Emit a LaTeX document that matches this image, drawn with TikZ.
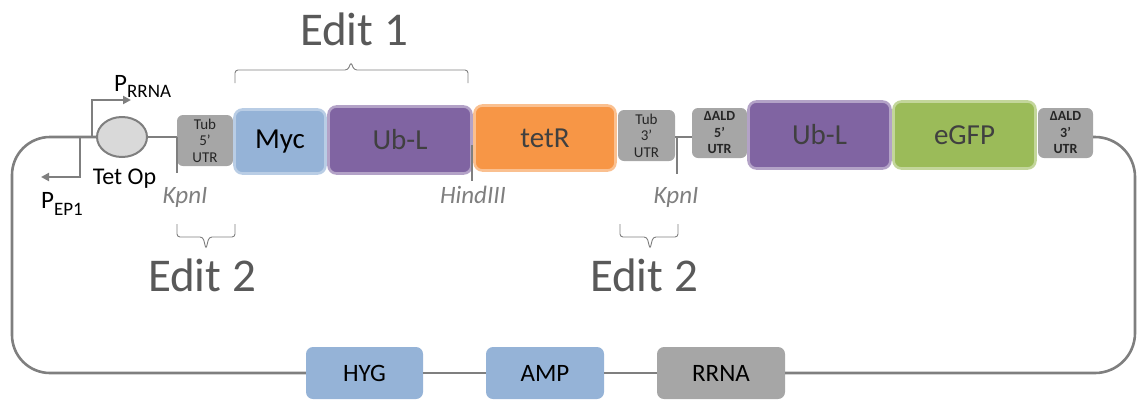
\documentclass[tikz,border=0pt]{standalone}
\usepackage{fontspec}
\setmainfont{Carlito}
\usetikzlibrary{arrows.meta,shapes.geometric}
\definecolor{linegray}{HTML}{7F7F7F}
\definecolor{utrgray}{HTML}{A6A6A6}
\definecolor{bluefill}{HTML}{95B3D7}
\definecolor{blueedge}{HTML}{B9CDE5}
\definecolor{purplefill}{HTML}{8064A2}
\definecolor{purpleedge}{HTML}{B3A2C7}
\definecolor{orangefill}{HTML}{F79646}
\definecolor{orangeedge}{HTML}{FAC090}
\definecolor{greenfill}{HTML}{9BBB59}
\definecolor{greenedge}{HTML}{C3D69B}
\definecolor{opfill}{HTML}{D9D9D9}
\definecolor{edittext}{HTML}{595959}
\definecolor{darktext}{HTML}{404040}
\begin{document}
\begin{tikzpicture}[x=1pt,y=-1pt,
  bb/.style={draw=linegray,line width=2.6pt},
  site/.style={draw=linegray,line width=2.4pt},
  bracepath/.style={draw=linegray,line width=0.9pt,rounded corners=3pt},
  gene/.style={rectangle,rounded corners=8pt,inner sep=0pt,line width=2.6pt,
    font=\fontsize{29}{29}\selectfont},
  utr/.style={rectangle,rounded corners=6pt,inner sep=0pt,fill=utrgray,
    align=center,font=\fontsize{15}{16.5}\selectfont,text=black!85},
  utrbold/.style={utr,font=\fontsize{14}{16.5}\selectfont\bfseries},
  marker/.style={rectangle,rounded corners=7pt,inner sep=0pt,
    minimum height=52pt,font=\fontsize{25}{25}\selectfont,text=black},
  enzyme/.style={inner sep=0pt,anchor=base,text=linegray,
    font=\fontsize{25}{25}\selectfont\itshape},
  edit/.style={inner sep=0pt,anchor=base,text=edittext,
    font=\fontsize{47}{47}\selectfont},
  promo/.style={inner sep=0pt,anchor=base west,text=black,
    font=\fontsize{25}{25}\selectfont},
  arr/.style={-{Triangle[length=8pt,width=8pt]}}]
\useasboundingbox (0,0) rectangle (1139,400);

% upper cassette
\node[ellipse,draw=linegray,fill=opfill,line width=2pt,minimum width=50pt,
  minimum height=40pt,inner sep=0pt] (tetop) at (122,137) {};
\node[utr,minimum width=56pt,minimum height=51pt] (tub5) at (205,140.5) {Tub\\5’\\UTR};
\node[gene,fill=bluefill,draw=blueedge,minimum width=91pt,minimum height=64pt,
  text=black] (myc) at (280,141.5) {Myc};
\node[gene,fill=purplefill,draw=purpleedge,minimum width=143pt,minimum height=67pt,
  text=darktext] (ubl1) at (400,140) {Ub-L};
\node[gene,fill=orangefill,draw=orangeedge,minimum width=141pt,minimum height=65pt,
  text=darktext] (tetr) at (545,138) {tetR};
\node[utr,minimum width=57pt,minimum height=51pt] (tub3) at (646.5,135.5) {Tub\\3’\\UTR};
\node[utrbold,minimum width=55pt,minimum height=50pt] (ald5) at (719.5,133) {ΔALD\\5’\\UTR};
\node[gene,fill=purplefill,draw=purpleedge,minimum width=142pt,minimum height=67pt,
  text=darktext] (ubl2) at (819.5,135) {Ub-L};
\node[gene,fill=greenfill,draw=greenedge,minimum width=142pt,minimum height=67pt,
  text=darktext] (egfp) at (964.5,135) {eGFP};
\node[utrbold,minimum width=55pt,minimum height=50pt] (ald3) at (1065.5,133) {ΔALD\\3’\\UTR};

% lower markers
\node[marker,fill=bluefill,minimum width=117pt] (hyg) at (364.5,373) {HYG};
\node[marker,fill=bluefill,minimum width=118pt] (amp) at (545,373) {AMP};
\node[marker,fill=utrgray,minimum width=128pt] (rrna) at (721,373) {RRNA};

% plasmid backbone
\draw[bb] (tetop.east) -- (tub5.west |- tetop.east);
\draw[bb] (tub3.east |- tetop) -- (ald5.west |- tetop);
\draw[bb,rounded corners=40pt] (ald3.east |- tetop) -| (1135,373) -- (rrna.east);
\draw[bb] (rrna.west) -- (amp.east);
\draw[bb] (amp.west) -- (hyg.east);
\draw[bb,rounded corners=38pt] (hyg.west) -| (12,137) -- (tetop.west);

% promoters
\coordinate (rrnaroot) at (92,137);
\coordinate (rrnatip) at (131,100);
\coordinate (ep1root) at (80,137);
\coordinate (ep1tip) at (41,177);
\draw[bb,line width=2.4pt,arr] (rrnaroot) |- (rrnatip);
\draw[bb,line width=2.4pt,arr] (ep1root) |- (ep1tip);
\node[promo] (prrna) at (114,91) {P\raisebox{-6pt}{\fontsize{19}{19}\selectfont RRNA}};
\node[promo] (pep1) at (41,208) {P\raisebox{-7pt}{\fontsize{19}{19}\selectfont EP1}};
\node[inner sep=0pt,anchor=base,font=\fontsize{24}{24}\selectfont] (tetoplabel)
  at (124.5,184) {Tet Op};

% restriction sites
\coordinate (k1a) at (177,137);  \coordinate (k1b) at (177,173);
\coordinate (h1a) at (472,145);  \coordinate (h1b) at (472,181);
\coordinate (k2a) at (677,137);  \coordinate (k2b) at (677,174);
\draw[site] (k1a) -- (k1b);
\draw[site] (h1a) -- (h1b);
\draw[site] (k2a) -- (k2b);
\node[enzyme] (kpn1) at (185,203) {KpnI};
\node[enzyme] (hind) at (473,203) {HindIII};
\node[enzyme] (kpn2) at (676,203) {KpnI};

% edit regions
\draw[bracepath] (235,83) -- (235,70) -- (348,70) -- (351,62) -- (354,70) -- (468,70) -- (468,83);
\node[edit] (edit1) at (354,45) {Edit 1};
\draw[bracepath] (177,224) -- (177,237) -- (203,237) -- (206,249) -- (209,237) -- (235,237) -- (235,224);
\node[edit] (edit2a) at (202,291) {Edit 2};
\draw[bracepath] (620,224) -- (620,237) -- (647,237) -- (650,249) -- (653,237) -- (678,237) -- (678,224);
\node[edit] (edit2b) at (644,291) {Edit 2};
\end{tikzpicture}
\end{document}
